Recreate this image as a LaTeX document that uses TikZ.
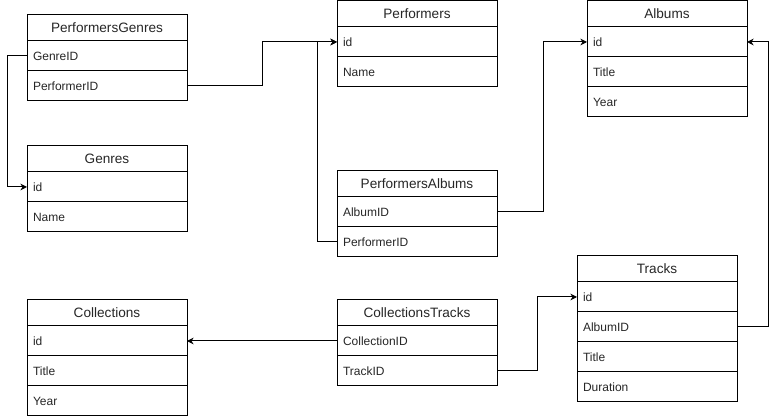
\documentclass[tikz,border=0pt]{standalone}
\usepackage{fontspec}
\setmainfont{Liberation Sans}
\usetikzlibrary{positioning, arrows.meta}
\tikzset{tblhead/.style={draw, line width=0.75pt, minimum width=120pt, minimum height=19.5pt, inner sep=0pt, outer sep=0pt, font=\fontsize{10.2}{12}\selectfont, text=black!85}}
\tikzset{tblrow/.style={draw, line width=0.75pt, text width=111pt, inner xsep=4.5pt, inner ysep=0pt, outer sep=0pt, minimum height=22.5pt, align=left, font=\fontsize{9}{11}\selectfont, text=black!85}}
\tikzstyle{fk}=[line width=0.75pt, -{Stealth[length=5pt, width=5pt]}]

\begin{document}
\begin{tikzpicture}[x=0.75pt, y=-0.75pt]
  \useasboundingbox (0,0) rectangle (776,420);

  \node[tblhead, anchor=north west] (pg) at (27,15) {PerformersGenres};
  \node[tblrow, below=0pt of pg] (pgGenre) {GenreID};
  \node[tblrow, below=0pt of pgGenre] (pgPerf) {PerformerID};

  \node[tblhead, anchor=north west] (g) at (27,146) {Genres};
  \node[tblrow, below=0pt of g] (gId) {id};
  \node[tblrow, below=0pt of gId] (gName) {Name};

  \node[tblhead, anchor=north west] (p) at (337,1) {Performers};
  \node[tblrow, below=0pt of p] (pId) {id};
  \node[tblrow, below=0pt of pId] (pName) {Name};

  \node[tblhead, anchor=north west] (a) at (587,1) {Albums};
  \node[tblrow, below=0pt of a] (aId) {id};
  \node[tblrow, below=0pt of aId] (aTitle) {Title};
  \node[tblrow, below=0pt of aTitle] (aYear) {Year};

  \node[tblhead, anchor=north west] (pa) at (337,171) {PerformersAlbums};
  \node[tblrow, below=0pt of pa] (paAlbum) {AlbumID};
  \node[tblrow, below=0pt of paAlbum] (paPerf) {PerformerID};

  \node[tblhead, anchor=north west] (t) at (577,256) {Tracks};
  \node[tblrow, below=0pt of t] (tId) {id};
  \node[tblrow, below=0pt of tId] (tAlbum) {AlbumID};
  \node[tblrow, below=0pt of tAlbum] (tTitle) {Title};
  \node[tblrow, below=0pt of tTitle] (tDur) {Duration};

  \node[tblhead, anchor=north west] (c) at (27,300) {Collections};
  \node[tblrow, below=0pt of c] (cId) {id};
  \node[tblrow, below=0pt of cId] (cTitle) {Title};
  \node[tblrow, below=0pt of cTitle] (cYear) {Year};

  \node[tblhead, anchor=north west] (ct) at (337,300) {CollectionsTracks};
  \node[tblrow, below=0pt of ct] (ctColl) {CollectionID};
  \node[tblrow, below=0pt of ctColl] (ctTrack) {TrackID};

  \draw[fk] (pgGenre.west) -- ++(-20,0) |- (gId.west);
  \draw[fk] (pgPerf.east) -- ++(75,0) |- (pId.west);
  \draw[fk] (paPerf.west) -- ++(-20,0) |- (pId.west);
  \draw[fk] (paAlbum.east) -- ++(46,0) |- (aId.west);
  \draw[fk] (tAlbum.east) -- ++(31,0) |- (aId.east);
  \draw[fk] (ctColl.west) -- (cId.east);
  \draw[fk] (ctTrack.east) -- ++(40,0) |- (tId.west);

\end{tikzpicture}
\end{document}
